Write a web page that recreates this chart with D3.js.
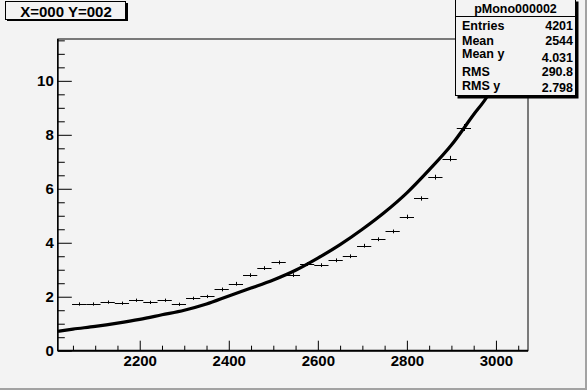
<!DOCTYPE html>
<html>
<head>
<meta charset="utf-8">
<script src="https://cdn.jsdelivr.net/npm/d3@7"></script>
<style>
  html, body { margin: 0; padding: 0; background: #f3f3f3; }
  svg text { font-family: "Liberation Sans", Arial, Helvetica, sans-serif; font-weight: bold; }
</style>
</head>
<body>
<div id="vis"></div>
<script>
// Profile histogram pMono000002 with fitted curve, ROOT-style canvas.

const TITLE = "X=000 Y=002";
const STATS_NAME = "pMono000002";
const STATS = [
  { label: "Entries", value: "4201" },
  { label: "Mean",    value: "2544" },
  { label: "Mean y",  value: "4.031" },
  { label: "RMS",     value: "290.8" },
  { label: "RMS y",   value: "2.798" },
];

const X_DOMAIN = [2016, 3072];
const Y_DOMAIN = [0, 11.55];
const BIN_WIDTH = 32;
const X_MAJOR = [2200, 2400, 2600, 2800, 3000];
const Y_MAJOR = [0, 2, 4, 6, 8, 10];

// profile bins: centre, mean, error
const BIN_X = [2064, 2096, 2128, 2160, 2192, 2224, 2256, 2288, 2320, 2352,
               2384, 2416, 2448, 2480, 2512, 2544, 2576, 2608, 2640, 2672,
               2704, 2736, 2768, 2800, 2832, 2864, 2896, 2928, 2960, 2992];
const BIN_Y = [1.73, 1.73, 1.80, 1.76, 1.87, 1.79, 1.87, 1.72, 1.94, 2.01,
               2.27, 2.48, 2.80, 3.06, 3.27, 2.80, 3.21, 3.17, 3.35, 3.50,
               3.89, 4.13, 4.42, 4.96, 5.64, 6.43, 7.12, 8.27, 9.90, 11.3];
const BIN_E = [0.06, 0.06, 0.06, 0.06, 0.06, 0.06, 0.06, 0.06, 0.06, 0.06,
               0.07, 0.07, 0.07, 0.07, 0.07, 0.07, 0.07, 0.07, 0.07, 0.07,
               0.07, 0.07, 0.07, 0.08, 0.08, 0.09, 0.10, 0.13, 0.15, 0.18];

// fitted curve
const FIT_X = [2016, 2050, 2100, 2150, 2200, 2250, 2300, 2350, 2400, 2450,
               2500, 2550, 2600, 2650, 2700, 2750, 2800, 2850, 2900, 2950,
               2980, 3000, 3020, 3040, 3050];
const FIT_Y = [0.72, 0.80, 0.90, 1.02, 1.16, 1.33, 1.50, 1.73, 2.03, 2.32,
               2.62, 2.98, 3.43, 3.93, 4.50, 5.13, 5.85, 6.70, 7.62, 8.75,
               9.41, 10.0, 10.7, 11.45, 11.85];

const W = 587, H = 390;
const BG = "#f3f3f3";
const frame = { left: 57.8, right: 528, top: 39, bottom: 350.7 };

const svg = d3.select("#vis").append("svg").attr("width", W).attr("height", H);

svg.append("rect").attr("width", W).attr("height", H).attr("fill", BG);
// canvas bevel
svg.append("rect").attr("x", 0).attr("y", H - 2).attr("width", W).attr("height", 2).attr("fill", "#a2a2a2");
svg.append("rect").attr("x", W - 2).attr("y", 0).attr("width", 2).attr("height", H).attr("fill", "#a2a2a2");

const x = d3.scaleLinear().domain(X_DOMAIN).range([frame.left, frame.right]);
const y = d3.scaleLinear().domain(Y_DOMAIN).range([frame.bottom, frame.top]);

// frame
svg.append("rect")
  .attr("x", frame.left).attr("y", frame.top)
  .attr("width", frame.right - frame.left).attr("height", frame.bottom - frame.top)
  .attr("fill", "none").attr("stroke", "#000").attr("stroke-width", 1);

svg.append("clipPath").attr("id", "clip").append("rect")
  .attr("x", frame.left).attr("y", frame.top)
  .attr("width", frame.right - frame.left).attr("height", frame.bottom - frame.top);

// axes
const xMinor = d3.range(2050, 3072, 50).filter(v => !X_MAJOR.includes(v));
const yMinor = d3.range(0.5, 11.55, 0.5).filter(v => !Y_MAJOR.includes(v));

const styleAxis = ax => {
  ax.selectAll(".tick line").attr("stroke", "#000").attr("stroke-width", 1);
  ax.selectAll("text").attr("fill", "#000").style("font-size", "15px").style("font-weight", "bold");
};

svg.append("g").attr("transform", `translate(0,${frame.bottom})`)
  .call(d3.axisBottom(x).tickValues(xMinor).tickSize(-5).tickFormat(""))
  .call(ax => ax.select(".domain").remove())
  .call(styleAxis);
svg.append("g").attr("transform", `translate(0,${frame.bottom})`)
  .call(d3.axisBottom(x).tickValues(X_MAJOR).tickSize(-10).tickPadding(5).tickFormat(d3.format("d")))
  .call(ax => ax.select(".domain").remove())
  .call(styleAxis);

svg.append("g").attr("transform", `translate(${frame.left},0)`)
  .call(d3.axisLeft(y).tickValues(yMinor).tickSize(-7).tickFormat(""))
  .call(ax => ax.select(".domain").remove())
  .call(styleAxis);
svg.append("g").attr("transform", `translate(${frame.left},0)`)
  .call(d3.axisLeft(y).tickValues(Y_MAJOR).tickSize(-14).tickPadding(4).tickFormat(d3.format("d")))
  .call(ax => ax.select(".domain").remove())
  .call(styleAxis);

// axis lines
svg.append("line").attr("x1", frame.left).attr("x2", frame.right)
  .attr("y1", frame.bottom).attr("y2", frame.bottom).attr("stroke", "#000").attr("stroke-width", 2);
svg.append("line").attr("x1", frame.left).attr("x2", frame.left)
  .attr("y1", frame.top).attr("y2", frame.bottom).attr("stroke", "#000").attr("stroke-width", 1.5);

const plot = svg.append("g").attr("clip-path", "url(#clip)");

// profile points
const bins = BIN_X.map((c, i) => ({ c, v: BIN_Y[i], e: BIN_E[i] }));
const pts = plot.append("g").attr("stroke", "#000").attr("stroke-width", 1);
pts.selectAll("line.h").data(bins).join("line").attr("class", "h")
  .attr("x1", d => x(d.c - BIN_WIDTH / 2)).attr("x2", d => x(d.c + BIN_WIDTH / 2))
  .attr("y1", d => Math.round(y(d.v)) + 0.5).attr("y2", d => Math.round(y(d.v)) + 0.5);
pts.selectAll("line.v").data(bins).join("line").attr("class", "v")
  .attr("x1", d => Math.round(x(d.c)) + 0.5).attr("x2", d => Math.round(x(d.c)) + 0.5)
  .attr("y1", d => y(d.v - d.e)).attr("y2", d => y(d.v + d.e));

// fit curve
const fit = FIT_X.map((v, i) => [v, FIT_Y[i]]);
plot.append("path").datum(fit)
  .attr("d", d3.line().x(d => x(d[0])).y(d => y(d[1])).curve(d3.curveMonotoneX))
  .attr("fill", "none").attr("stroke", "#000").attr("stroke-width", 3.2);

// title box
svg.append("rect").attr("x", 7).attr("y", 3).attr("width", 121).attr("height", 18).attr("fill", "#000");
svg.append("rect").attr("x", 5.5).attr("y", 1.5).attr("width", 120).attr("height", 18)
  .attr("fill", BG).attr("stroke", "#000").attr("stroke-width", 1);
svg.append("text").attr("x", 66).attr("y", 17).attr("text-anchor", "middle")
  .style("font-size", "15px").text(TITLE);

// stats box
const sb = { x: 455.5, y: -0.5, w: 120, h: 96 };
svg.append("rect").attr("x", sb.x + 2).attr("y", sb.y + 2).attr("width", sb.w + 1).attr("height", sb.h + 1).attr("fill", "#000");
svg.append("rect").attr("x", sb.x).attr("y", sb.y).attr("width", sb.w).attr("height", sb.h)
  .attr("fill", BG).attr("stroke", "#000").attr("stroke-width", 1);
svg.append("line").attr("x1", sb.x).attr("x2", sb.x + sb.w).attr("y1", 16.5).attr("y2", 16.5)
  .attr("stroke", "#000").attr("stroke-width", 1);
svg.append("text").attr("x", sb.x + sb.w / 2).attr("y", 12.5).attr("text-anchor", "middle")
  .style("font-size", "12.5px").text(STATS_NAME);

const LABEL_BASE = [30, 45, 58, 76, 90];
const VALUE_BASE = [30, 45, 62, 76, 92];
STATS.forEach((s, i) => {
  svg.append("text").attr("x", 462).attr("y", LABEL_BASE[i]).style("font-size", "12.5px").text(s.label);
  svg.append("text").attr("x", 573).attr("y", VALUE_BASE[i]).attr("text-anchor", "end")
    .style("font-size", "12.5px").text(s.value);
});
</script>
</body>
</html>
